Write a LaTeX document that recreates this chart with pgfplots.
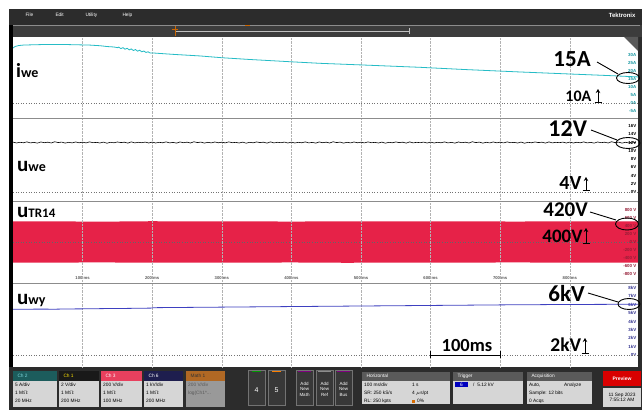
\documentclass[border=0pt]{standalone}
\usepackage{pgfplots}
\pgfplotsset{compat=1.18}
\usetikzlibrary{arrows.meta}
\usepackage{fontspec}
\setmainfont{Carlito}
\newfontfamily\uifont{Liberation Sans}
\definecolor{tekcyan}{RGB}{38,188,198}
\definecolor{tekcyanlbl}{RGB}{20,150,160}
\definecolor{tekred}{RGB}{230,34,72}
\definecolor{tekredlbl}{RGB}{150,30,55}
\definecolor{tekblue}{RGB}{62,64,192}
\definecolor{tekbluelbl}{RGB}{45,45,140}
\definecolor{tekbg}{RGB}{44,44,44}
\definecolor{tekbar}{RGB}{60,60,60}
\definecolor{badgebody}{RGB}{214,214,214}
\definecolor{ch2head}{RGB}{28,92,92}
\definecolor{ch3head}{RGB}{232,64,94}
\definecolor{ch6head}{RGB}{30,30,78}
\definecolor{mathhead}{RGB}{176,104,36}
\definecolor{ghead}{RGB}{90,90,90}
\newcommand{\ui}{\uifont\fontsize{4.8}{5}\selectfont}
\newcommand{\tl}{\uifont\fontsize{4.2}{5}\selectfont\bfseries}
\pgfplotsset{
 tekpanel/.style={scale only axis, width=625pt, anchor=north west, xmin=0, xmax=898,
  axis line style={draw=none}, major tick style={draw=none}, minor tick style={draw=none},
  xtick={100,200,...,800}, xticklabels={}, xmajorgrids,
  grid style={black!30, densely dotted, line width=0.4pt},
  yticklabel pos=right,
  yticklabel style={anchor=east, inner sep=0pt, xshift=-1.5pt, font=\uifont\fontsize{4.4}{5}\selectfont\bfseries},
  clip=true}
}
\begin{document}
\begin{tikzpicture}[x=1pt,y=1pt]
\fill[white] (0,0) rectangle (643,410);
\fill[tekbg] (9,0) rectangle (642,401);
\fill[tekbar] (9,385) rectangle (642,373);
\draw[black!45, line width=0.6pt] (11,385) -- (640,385);
\fill[black] (9,43) rectangle (13,385);
\fill[white] (13,43) rectangle (638,373);
% menu
\node[anchor=west, text=white, font=\ui] at (22,395) {File};
\node[anchor=west, text=white, font=\ui] at (52,395) {Edit};
\node[anchor=west, text=white, font=\ui] at (82,395) {Utility};
\node[anchor=west, text=white, font=\ui] at (119,395) {Help};
\node[anchor=east, text=white, font=\uifont\fontsize{6}{7}\selectfont\bfseries] at (639,395) {Tektronix};
% timeline
\draw[black!25, line width=0.5pt] (175,379) -- (409,379);
\draw[black!25, line width=0.5pt] (409,376) -- (409,382);
\draw[orange!80!black, line width=0.8pt] (175,374) -- (175,384);
\draw[orange!80!black, line width=0.6pt] (172,381) -- (178,381);
\draw[orange!80!black, line width=1pt] (245,384) -- (250,384);

% Panel 1: i_we
\begin{axis}[tekpanel, at={(13pt,373pt)}, height=81pt, ymin=-9.375, ymax=41.25,
  ytick={-5,0,...,30}, yticklabels={-5A,0A,5A,10A,15A,20A,25A,30A},
  yticklabel style={text=tekcyanlbl}]
\addplot[black!55, dotted, line width=0.6pt] coordinates {(0,0) (898,0)};
\addplot[tekcyan, line width=0.8pt] coordinates {
(0,34.4) (3,35.3) (8,35.9) (15,36.2) (30,36.4) (50,36.6) (70,36.6) (90,36.4) (110,36.2)
(125,35.8) (135,35.3) (145,35.0) (150,34.6) (152,34.9) (155,34.0) (158,34.6) (161,33.6)
(164,34.2) (167,33.2) (170,33.8) (173,32.8) (176,33.4) (179,32.4) (182,33.0) (185,32.0)
(188,32.5) (191,31.6) (194,32.0) (197,31.3) (200,31.3) (230,30.4) (269,29.4) (300,28.3)
(340,27.2) (402,25.7) (441,24.8) (500,23.8) (585,22.3) (650,20.9) (728,19.4) (790,18.3)
(853,17.2) (898,16.3)};
\end{axis}

% Panel 2: u_we
\begin{axis}[tekpanel, at={(13pt,292pt)}, height=83pt, ymin=-2.18, ymax=17.94,
  ytick={0,2,...,16}, yticklabels={0V,2V,4V,6V,8V,10V,12V,14V,16V},
  yticklabel style={text=black}]
\addplot[black!55, dotted, line width=0.6pt] coordinates {(0,0) (898,0)};
\addplot[black, line width=0.6pt] coordinates {
(0,12.1)(5,11.88)(10,12.05)(15,11.93)(20,12.15)(25,11.9)(30,12.03)(35,11.85)(40,12.13)(45,11.95)(50,12.08)(55,11.88)(60,12.18)(65,11.98)(70,12.1)(75,11.85)(80,12.05)(85,11.9)(90,12.13)(95,11.93)
(100,12.08)(105,11.9)(110,12.15)(115,11.95)(120,12.03)(125,11.88)(130,12.1)(135,11.83)(140,12.05)(145,11.93)(150,12.13)(155,11.98)(160,12.08)(165,11.85)(170,12.15)(175,11.9)(180,12.05)(185,11.95)(190,12.1)(195,11.88)
(200,12.1)(205,11.88)(210,12.05)(215,11.93)(220,12.15)(225,11.9)(230,12.03)(235,11.85)(240,12.13)(245,11.95)(250,12.08)(255,11.88)(260,12.18)(265,11.98)(270,12.1)(275,11.85)(280,12.05)(285,11.9)(290,12.13)(295,11.93)
(300,12.08)(305,11.9)(310,12.15)(315,11.95)(320,12.03)(325,11.88)(330,12.1)(335,11.83)(340,12.05)(345,11.93)(350,12.13)(355,11.98)(360,12.08)(365,11.85)(370,12.15)(375,11.9)(380,12.05)(385,11.95)(390,12.1)(395,11.88)
(400,12.1)(405,11.88)(410,12.05)(415,11.93)(420,12.15)(425,11.9)(430,12.03)(435,11.85)(440,12.13)(445,11.95)(450,12.08)(455,11.88)(460,12.18)(465,11.98)(470,12.1)(475,11.85)(480,12.05)(485,11.9)(490,12.13)(495,11.93)
(500,12.08)(505,11.9)(510,12.15)(515,11.95)(520,12.03)(525,11.88)(530,12.1)(535,11.83)(540,12.05)(545,11.93)(550,12.13)(555,11.98)(560,12.08)(565,11.85)(570,12.15)(575,11.9)(580,12.05)(585,11.95)(590,12.1)(595,11.88)
(600,12.1)(605,11.88)(610,12.05)(615,11.93)(620,12.15)(625,11.9)(630,12.03)(635,11.85)(640,12.13)(645,11.95)(650,12.08)(655,11.88)(660,12.18)(665,11.98)(670,12.1)(675,11.85)(680,12.05)(685,11.9)(690,12.13)(695,11.93)
(700,12.08)(705,11.9)(710,12.15)(715,11.95)(720,12.03)(725,11.88)(730,12.1)(735,11.83)(740,12.05)(745,11.93)(750,12.13)(755,11.98)(760,12.08)(765,11.85)(770,12.15)(775,11.9)(780,12.05)(785,11.95)(790,12.1)(795,11.88)
(800,12.1)(805,11.88)(810,12.05)(815,11.93)(820,12.15)(825,11.9)(830,12.03)(835,11.85)(840,12.13)(845,11.95)(850,12.08)(855,11.88)(860,12.18)(865,11.98)(870,12.1)(875,11.85)(880,12.05)(885,11.9)(890,12.13)(895,11.93)};
\end{axis}

% Panel 3: u_TR14
\begin{axis}[tekpanel, at={(13pt,209pt)}, height=82pt, ymin=-1010, ymax=1010, axis on top,
  ytick={-800,-600,...,800}, yticklabels={-800 V,-600 V,-400 V,-200 V,0 V,200 V,400 V,600 V,800 V},
  yticklabel style={text=tekredlbl}]
\addplot[fill=tekred, draw=none] coordinates {(0,505) (60,510) (120,500) (200,512) (260,505) (330,510) (400,503) (480,511) (560,506) (640,510) (720,504) (800,509) (898,506) (898,-506) (800,-510) (720,-503) (640,-509) (560,-505) (480,-512) (400,-504) (330,-509) (260,-506) (200,-511) (120,-502) (60,-509) (0,-505)} -- cycle;
\addplot[black!60, dotted, line width=0.6pt] coordinates {(0,0) (898,0)};
\node[font=\tl, text=black!65] at (axis cs:100,-880) {100 ms};
\node[font=\tl, text=black!65] at (axis cs:200,-880) {200 ms};
\node[font=\tl, text=black!65] at (axis cs:300,-880) {300 ms};
\node[font=\tl, text=black!65] at (axis cs:400,-880) {400 ms};
\node[font=\tl, text=black!65] at (axis cs:500,-880) {500 ms};
\node[font=\tl, text=black!65] at (axis cs:600,-880) {600 ms};
\node[font=\tl, text=black!65] at (axis cs:700,-880) {700 ms};
\node[font=\tl, text=black!65] at (axis cs:800,-880) {800 ms};
\end{axis}

% Panel 4: u_wy
\begin{axis}[tekpanel, at={(13pt,127pt)}, height=84pt, ymin=-1.433, ymax=8.597,
  ytick={0,1,...,8}, yticklabels={0V,1kV,2kV,3kV,4kV,5kV,6kV,7kV,8kV},
  yticklabel style={text=tekbluelbl}]
\addplot[black!55, dotted, line width=0.6pt] coordinates {(0,0) (898,0)};
\addplot[tekblue, line width=0.8pt] coordinates {
(0,5.46)(20,5.47)(40,5.48)(60,5.47)(80,5.50)(100,5.51)(120,5.53)(140,5.55)(160,5.56)(180,5.58)
(198,5.60)(202,5.65)(230,5.67)(260,5.69)(290,5.71)(320,5.73)(350,5.75)(380,5.77)(410,5.79)
(440,5.81)(470,5.83)(500,5.85)(530,5.87)(560,5.89)(590,5.91)(620,5.93)(650,5.95)(680,5.97)
(710,5.99)(740,6.00)(770,6.02)(800,6.03)(830,6.04)(860,6.05)(898,6.06)};
\end{axis}

% separators
\draw[black!45, line width=0.8pt] (13,292) -- (638,292);
\draw[black!45, line width=0.8pt] (13,209) -- (638,209);
\draw[black!45, line width=0.8pt] (13,127) -- (638,127);
\fill[black!65] (624,373) -- (638,373) -- (638,359) -- cycle;

% channel labels
\node[anchor=base west, inner sep=0] at (16,332) {\fontsize{20}{22}\selectfont\bfseries i\fontsize{14}{16}\selectfont we};
\node[anchor=base west, inner sep=0] at (17,238) {\fontsize{21}{22}\selectfont\bfseries u\fontsize{14}{16}\selectfont we};
\node[anchor=base west, inner sep=0] at (17,192) {\fontsize{21}{22}\selectfont\bfseries u\fontsize{13}{16}\selectfont TR14};
\node[anchor=base west, inner sep=0] at (17,105) {\fontsize{21}{22}\selectfont\bfseries u\fontsize{14}{16}\selectfont wy};

% annotations
\begin{scope}[line width=0.9pt]
\node[anchor=base west, inner sep=0, font=\fontsize{23}{25}\selectfont\bfseries] at (553,343) {15A};
\draw (597,348) -- (618,336);
\draw (628,332) ellipse (11.5 and 5.5);
\node[anchor=base west, inner sep=0, font=\fontsize{16}{18}\selectfont\bfseries] at (565,308) {10A};
\draw[-{Stealth[length=4pt,width=4.5pt]}] (598,308) -- (598,321); \draw (594.5,308) -- (601.5,308);

\node[anchor=base west, inner sep=0, font=\fontsize{24}{26}\selectfont\bfseries] at (548,273) {12V};
\draw (591,280) -- (617,270);
\draw (628,267) ellipse (12 and 5.5);
\node[anchor=base west, inner sep=0, font=\fontsize{20}{22}\selectfont\bfseries] at (559,220) {4V};
\draw[-{Stealth[length=4pt,width=4.5pt]}] (586,220) -- (586,233); \draw (582.5,220) -- (589.5,220);

\node[anchor=base west, inner sep=0, font=\fontsize{21}{23}\selectfont\bfseries] at (543,193) {420V};
\draw (590,198) -- (616,190);
\draw (627,186) ellipse (11.5 and 6);
\node[anchor=base west, inner sep=0, font=\fontsize{19}{21}\selectfont\bfseries] at (542,167) {400V};
\draw[-{Stealth[length=4pt,width=4.5pt]}] (586,167) -- (586,182); \draw (582.5,167) -- (589.5,167);

\node[anchor=base west, inner sep=0, font=\fontsize{23}{25}\selectfont\bfseries] at (548,108) {6kV};
\draw (588,117) -- (618,108);
\draw (629,106) ellipse (11 and 5.5);
\node[anchor=base west, inner sep=0, font=\fontsize{19.5}{21}\selectfont\bfseries] at (550,58) {2kV};
\draw[-{Stealth[length=4pt,width=4.5pt]}] (585,57) -- (585,72); \draw (581.5,57) -- (588.5,57);

\node[anchor=base, inner sep=0, font=\fontsize{18.5}{21}\selectfont\bfseries] at (467,59) {100ms};
\draw (430,55) -- (500,55); \draw (430,51.5) -- (430,58.5); \draw (500,51.5) -- (500,58.5);
\end{scope}

% bottom bar badges
\fill[ch2head] (13,39) rectangle (57,29); \fill[badgebody] (13,29) rectangle (57,3);
\node[anchor=west, text=tekcyan!60!white, font=\ui] at (14,34) {Ch 2};
\node[anchor=west, font=\ui, inner sep=1pt] at (14,25) {5 A/div};
\node[anchor=west, font=\ui, inner sep=1pt] at (14,17) {1 M$\Omega$};
\node[anchor=west, font=\ui, inner sep=1pt] at (14,9) {20 MHz};

\fill[black!90] (59,39) rectangle (99,29); \fill[badgebody] (59,29) rectangle (99,3);
\node[anchor=west, text=yellow!85!orange, font=\ui] at (60,34) {Ch 1};
\node[anchor=west, font=\ui, inner sep=1pt] at (60,25) {2 V/div};
\node[anchor=west, font=\ui, inner sep=1pt] at (60,17) {1 M$\Omega$};
\node[anchor=west, font=\ui, inner sep=1pt] at (60,9) {200 MHz};

\fill[ch3head] (101,39) rectangle (142,29); \fill[badgebody] (101,29) rectangle (142,3);
\node[anchor=west, text=white, font=\ui] at (102,34) {Ch 3};
\node[anchor=west, font=\ui, inner sep=1pt] at (102,25) {200 V/div};
\node[anchor=west, font=\ui, inner sep=1pt] at (102,17) {1 M$\Omega$};
\node[anchor=west, font=\ui, inner sep=1pt] at (102,9) {100 MHz};

\fill[ch6head] (144,39) rectangle (183,29); \fill[badgebody] (144,29) rectangle (183,3);
\node[anchor=west, text=white, font=\ui] at (145,34) {Ch 6};
\node[anchor=west, font=\ui, inner sep=1pt] at (145,25) {1 kV/div};
\node[anchor=west, font=\ui, inner sep=1pt] at (145,17) {1 M$\Omega$};
\node[anchor=west, font=\ui, inner sep=1pt] at (145,9) {200 MHz};

\fill[mathhead] (186,39) rectangle (225,29); \fill[black!40] (186,29) rectangle (225,3);
\node[anchor=west, text=black!80, font=\ui] at (187,34) {Math 1};
\node[anchor=west, text=black!65, font=\ui, inner sep=1pt] at (187,25) {200 V/div};
\node[anchor=west, text=black!65, font=\ui, inner sep=1pt] at (187,17) {log(Ch1*...};

\draw[black!55, fill=black!78] (248,5) rectangle (265,40);
\draw[green!60!black, line width=1pt] (252,38) -- (261,38);
\node[text=white, font=\uifont\fontsize{7}{8}\selectfont] at (256.5,20) {4};
\draw[black!55, fill=black!78] (268,5) rectangle (285,40);
\draw[orange, line width=1pt] (272,38) -- (281,38);
\node[text=white, font=\uifont\fontsize{7}{8}\selectfont] at (276.5,20) {5};

\draw[black!55, fill=black!78] (296,5) rectangle (313,40);
\draw[violet, line width=1pt] (298,38) -- (311,38);
\node[text=white, font=\uifont\fontsize{4.5}{5.5}\selectfont, align=center] at (304.5,21) {Add\\New\\Math};
\draw[black!55, fill=black!78] (316,5) rectangle (333,40);
\draw[black!45, line width=1pt] (318,38) -- (331,38);
\node[text=white, font=\uifont\fontsize{4.5}{5.5}\selectfont, align=center] at (324.5,21) {Add\\New\\Ref};
\draw[black!55, fill=black!78] (335,5) rectangle (352,40);
\draw[violet, line width=1pt] (337,38) -- (350,38);
\node[text=white, font=\uifont\fontsize{4.5}{5.5}\selectfont, align=center] at (343.5,21) {Add\\New\\Bus};

\fill[ghead] (362,38) rectangle (450,29); \fill[badgebody] (362,29) rectangle (450,6);
\node[anchor=west, text=white, font=\ui] at (363,34) {Horizontal};
\node[anchor=west, font=\ui, inner sep=1pt] at (363,25) {100 ms/div};
\node[anchor=west, font=\ui, inner sep=1pt] at (411,25) {1 s};
\node[anchor=west, font=\ui, inner sep=1pt] at (363,17) {SR: 250 kS/s};
\node[anchor=west, font=\ui, inner sep=1pt] at (411,17) {4 $\mu$s/pt};
\node[anchor=west, font=\ui, inner sep=1pt] at (363,9) {RL: 250 kpts};
\fill[orange!85!black] (412,7.5) rectangle (415,10.5);
\node[anchor=west, font=\ui, inner sep=1pt] at (416,9) {0\%};

\fill[ghead] (453,38) rectangle (523,29); \fill[badgebody] (453,29) rectangle (523,6);
\node[anchor=west, text=white, font=\ui] at (454,34) {Trigger};
\fill[blue!75!black] (455,23) rectangle (468,28);
\node[text=white, font=\ui] at (461.5,25.5) {6};
\node[anchor=west, font=\ui, inner sep=1pt] at (472,25) {/\,\, 5.12 kV};

\fill[ghead] (527,38) rectangle (592,29); \fill[badgebody] (527,29) rectangle (592,6);
\node[anchor=west, text=white, font=\ui] at (528,34) {Acquisition};
\node[anchor=west, font=\ui, inner sep=1pt] at (528,25) {Auto,};
\node[anchor=west, font=\ui, inner sep=1pt] at (563,25) {Analyze};
\node[anchor=west, font=\ui, inner sep=1pt] at (528,17) {Sample: 12 bits};
\node[anchor=west, font=\ui, inner sep=1pt] at (528,9) {0 Acqs};

\fill[red!85!black] (603,39) rectangle (641,24);
\node[text=white, font=\uifont\fontsize{5}{6}\selectfont\bfseries] at (622,31.5) {Preview};
\fill[badgebody] (603,22) rectangle (641,3);
\node[font=\ui, align=center] at (622,12.5) {11 Sep 2023\\7:55:12 AM};

\pgfresetboundingbox
\useasboundingbox (0,0) rectangle (643,410);
\end{tikzpicture}
\end{document}
